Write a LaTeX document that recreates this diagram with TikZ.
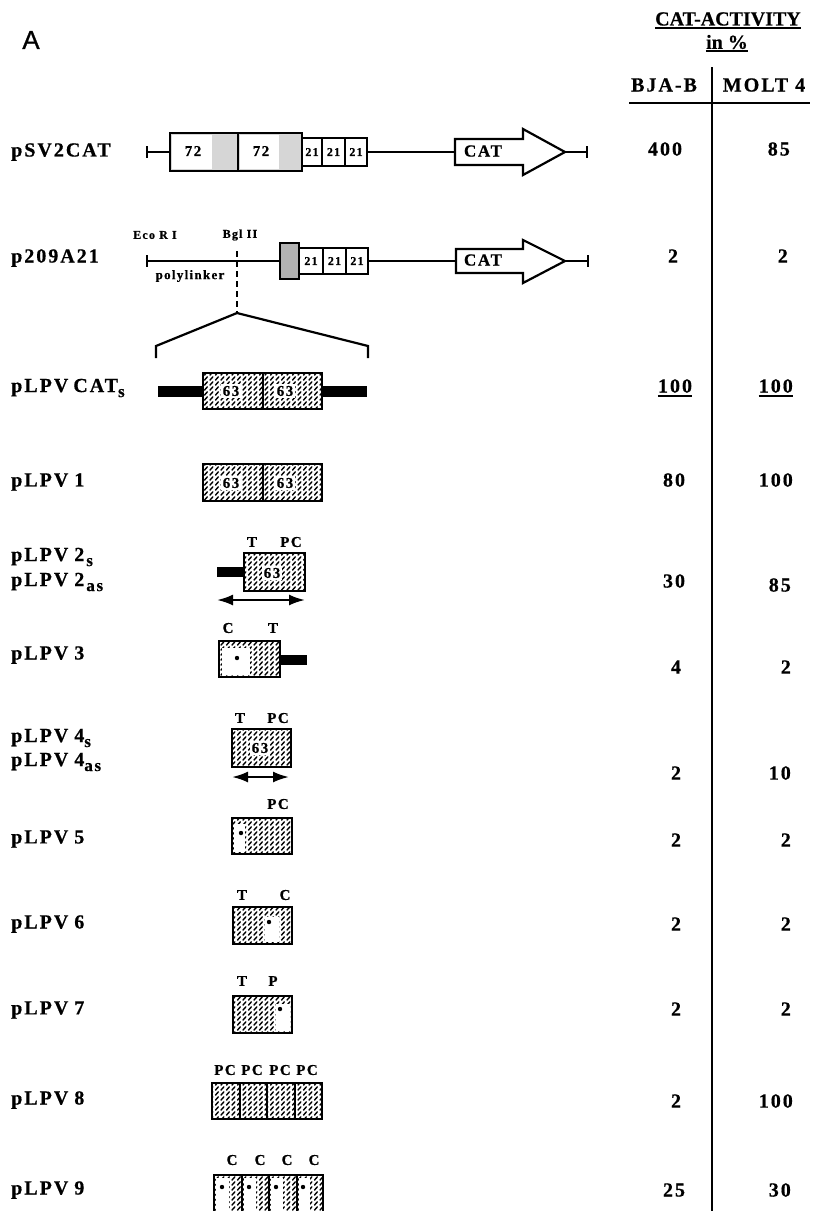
\documentclass[tikz,border=0pt]{standalone}
\usepackage{fontspec}
\setmainfont{Liberation Serif}
\newfontfamily\lab{Liberation Serif Bold}[LetterSpace=10,FakeBold=0.6]
\newfontfamily\hdf{Liberation Serif Bold}[FakeBold=0.5]
\newfontfamily\sfA{Liberation Sans}[FakeBold=0.8]
\usetikzlibrary{patterns,arrows.meta}
\pgfdeclarepatternformonly{shorthatch}{\pgfqpoint{-1pt}{-1pt}}{\pgfqpoint{7pt}{7pt}}{\pgfqpoint{5.5pt}{5pt}}{%
 \pgfsetlinewidth{1.4pt}\pgfsetroundcap
 \pgfpathmoveto{\pgfqpoint{1pt}{0.9pt}}\pgfpathlineto{\pgfqpoint{3.9pt}{4.2pt}}\pgfusepath{stroke}}
\newcommand{\mysub}[1]{\raisebox{-5pt}{\fontsize{17}{17}\selectfont #1}}
\begin{document}
\begin{tikzpicture}[x=1pt,y=-1pt,
  lbl/.style={font=\lab\fontsize{20}{22}\selectfont, anchor=west, inner sep=0pt},
  val/.style={font=\lab\fontsize{20}{22}\selectfont, inner sep=0pt},
  mval/.style={val, anchor=east},
  hdr/.style={font=\hdf\fontsize{20}{22}\selectfont, inner sep=0pt},
  tag/.style={font=\lab\fontsize{15}{16}\selectfont, inner sep=0pt},
  num/.style={font=\lab\fontsize{15}{16}\selectfont, fill=white, inner sep=2pt},
  small/.style={font=\lab\fontsize{12}{13}\selectfont, inner sep=0pt},
  box/.style={draw, line width=2.2pt},
  thinbox/.style={draw, line width=1.6pt},
  wire/.style={line width=1.6pt},
  hatch/.style={pattern=shorthatch},
  dbl/.style={line width=2.2pt, {Latex[length=16pt,width=11pt]}-{Latex[length=16pt,width=11pt]}},
  uline/.style={line width=1.6pt},
  dot/.style={fill=black}
]
\useasboundingbox (0,0) rectangle (812,1211);
\fill[white] (0,0) rectangle (812,1211);

% ---------- header ----------
\node[font=\sfA\fontsize{26}{28}\selectfont, inner sep=0pt] (A) at (31,40) {A};
\node[hdr] (cat) at (728,19) {CAT-ACTIVITY};
\draw[uline] ([yshift=-2pt]cat.south west) -- ([yshift=-2pt]cat.south east);
\node[hdr] (inp) at (727,42) {in \%};
\draw[uline] ([yshift=-2pt]inp.south west) -- ([yshift=-2pt]inp.south east);
\node[val] (bja) at (664,85) {BJA-B};
\node[val] (molt) at (764,85) {MOLT 4};
\coordinate (vtop) at (712,67);
\coordinate (vbot) at (712,1211);
\coordinate (hl) at (629,103);
\coordinate (hr) at (810,103);
\draw[line width=2.6pt] (vtop) -- (vbot);
\draw[line width=2.6pt] (hl) -- (hr);

% ---------- left labels ----------
\node[lbl] (l1) at (11,152) {pSV2CAT};
\node[lbl] (l2) at (11,258) {p209A21};
\node[lbl] (l3) at (11,388) {pLPV\hspace{5pt}CAT\mysub{s}};
\node[lbl] (l4) at (11,482) {pLPV\hspace{6pt}1};
\node[lbl] (l5a) at (11,557) {pLPV\hspace{6pt}2\hspace{2pt}\mysub{s}};
\node[lbl] (l5b) at (11,582) {pLPV\hspace{6pt}2\hspace{2pt}\mysub{as}};
\node[lbl] (l6) at (11,655) {pLPV\hspace{6pt}3};
\node[lbl] (l7a) at (11,738) {pLPV\hspace{6pt}4\mysub{s}};
\node[lbl] (l7b) at (11,762) {pLPV\hspace{6pt}4\mysub{as}};
\node[lbl] (l8) at (11,839) {pLPV\hspace{6pt}5};
\node[lbl] (l9) at (11,924) {pLPV\hspace{6pt}6};
\node[lbl] (l10) at (11,1010) {pLPV\hspace{6pt}7};
\node[lbl] (l11) at (11,1100) {pLPV\hspace{6pt}8};
\node[lbl] (l12) at (11,1190) {pLPV\hspace{6pt}9};

% ---------- values ----------
\node[val] (a1) at (665,149) {400};  \node[mval] (b1) at (790,149) {85};
\node[val] (a2) at (673,256) {2};    \node[mval] (b2) at (788,256) {2};
\node[val] (a3) at (675,386) {100};  \node[mval] (b3) at (793,386) {100};
\draw[uline] ([yshift=-3pt]a3.south west) -- ([yshift=-3pt]a3.south east);
\draw[uline] ([yshift=-3pt]b3.south west) -- ([yshift=-3pt]b3.south east);
\node[val] (a4) at (674,480) {80};   \node[mval] (b4) at (793,480) {100};
\node[val] (a5) at (674,581) {30};   \node[mval] (b5) at (791,585) {85};
\node[val] (a6) at (676,667) {4};    \node[mval] (b6) at (791,667) {2};
\node[val] (a7) at (676,773) {2};    \node[mval] (b7) at (791,773) {10};
\node[val] (a8) at (676,840) {2};    \node[mval] (b8) at (791,840) {2};
\node[val] (a9) at (676,924) {2};    \node[mval] (b9) at (791,924) {2};
\node[val] (a10) at (676,1009) {2};  \node[mval] (b10) at (791,1009) {2};
\node[val] (a11) at (676,1101) {2};  \node[mval] (b11) at (793,1101) {100};
\node[val] (a12) at (674,1190) {25}; \node[mval] (b12) at (791,1190) {30};

% ---------- pSV2CAT ----------
\draw[wire] (147,146) -- (147,158);
\draw[wire] (147,152) -- (170,152);
\fill[gray!32] (170,133) rectangle (302,171);
\fill[white] (172,135) rectangle (212,169);
\fill[white] (240,135) rectangle (279,169);
\draw[box] (170,133) rectangle (302,171);
\draw[line width=2.2pt] (238,133) -- (238,171);
\node[num, fill=none] (s72a) at (193,151) {72};
\node[num, fill=none] (s72b) at (261,151) {72};
\draw[thinbox] (302,138) rectangle (367,166);
\draw[wire] (322,138) -- (322,166);
\draw[wire] (345,138) -- (345,166);
\node[small] (s21a) at (312,152) {21};
\node[small] (s21b) at (333.5,152) {21};
\node[small] (s21c) at (356,152) {21};
\draw[wire] (367,152) -- (455,152);
\draw[line width=2.2pt, fill=white] (455,139) -- (523,139) -- (523,129) -- (565,152) -- (523,175) -- (523,165) -- (455,165) -- cycle;
\node[font=\lab\fontsize{17}{18}\selectfont, inner sep=0pt] (scat) at (483,151) {CAT};
\draw[wire] (565,152) -- (587,152);
\draw[wire] (587,146) -- (587,158);

% ---------- p209A21 ----------
\node[small] (eco) at (155,235) {Eco R I};
\node[small] (bgl) at (240,235) {Bgl II};
\node[font=\lab\fontsize{13}{14}\selectfont, inner sep=0pt] (poly) at (190,276) {polylinker};
\draw[wire] (147,255) -- (147,267);
\draw[wire] (147,261) -- (280,261);
\fill[gray!60] (280,243) rectangle (299,279);
\draw[box] (280,243) rectangle (299,279);
\draw[thinbox] (299,248) rectangle (368,274);
\draw[wire] (323,248) -- (323,274);
\draw[wire] (346,248) -- (346,274);
\node[small] (p21a) at (311,261) {21};
\node[small] (p21b) at (334.5,261) {21};
\node[small] (p21c) at (357,261) {21};
\draw[wire] (368,261) -- (456,261);
\draw[line width=2.2pt, fill=white] (456,249) -- (523,249) -- (523,240) -- (565,261) -- (523,283) -- (523,273) -- (456,273) -- cycle;
\node[font=\lab\fontsize{17}{18}\selectfont, inner sep=0pt] (pcat) at (483,260) {CAT};
\draw[wire] (565,261) -- (588,261);
\draw[wire] (588,255) -- (588,267);
% Bgl II insertion
\coordinate (bg) at (237,251);
\coordinate (apex) at (237,313);
\draw[line width=1.6pt, dash pattern=on 6pt off 4pt] (bg) -- (apex);
\draw[line width=2.2pt] (156,358) -- (156,346) -- (apex) -- (368,346) -- (368,358);

% ---------- pLPV CATs ----------
\fill (158,386) rectangle (367,397);
\fill[white] (203,373) rectangle (322,409);
\fill[hatch] (203,373) rectangle (322,409);
\draw[box] (203,373) rectangle (322,409);
\draw[line width=1.4pt] (263,373) -- (263,409);
\node[num] (c63a) at (231,391) {63};
\node[num] (c63b) at (285,391) {63};

% ---------- pLPV 1 ----------
\fill[hatch] (203,464) rectangle (322,501);
\draw[box] (203,464) rectangle (322,501);
\draw[line width=1.4pt] (263,464) -- (263,501);
\node[num] (o63a) at (231,483) {63};
\node[num] (o63b) at (285,483) {63};

% ---------- pLPV 2 ----------
\node[tag] (t2T) at (252,542) {T};
\node[tag] (t2P) at (291,542) {PC};
\fill (217,567) rectangle (244,577);
\fill[hatch] (244,553) rectangle (305,591);
\draw[box] (244,553) rectangle (305,591);
\node[num] (w63) at (272,573) {63};
\coordinate (d2l) at (217,600);
\coordinate (d2r) at (305,600);
\draw[dbl] (d2l) -- (d2r);

% ---------- pLPV 3 ----------
\node[tag] (t3C) at (228,628) {C};
\node[tag] (t3T) at (273,628) {T};
\fill[hatch] (219,641) rectangle (280,677);
\fill[white] (222,648) rectangle (250,675);
\draw[box] (219,641) rectangle (280,677);
\fill (280,655) rectangle (307,665);
\fill[dot] (237,658) circle[radius=2.2pt];

% ---------- pLPV 4 ----------
\node[tag] (t4T) at (240,718) {T};
\node[tag] (t4P) at (278,718) {PC};
\fill[hatch] (232,729) rectangle (291,767);
\draw[box] (232,729) rectangle (291,767);
\node[num] (f63) at (260,748) {63};
\coordinate (d4l) at (232,777);
\coordinate (d4r) at (289,777);
\draw[dbl] (d4l) -- (d4r);

% ---------- pLPV 5 ----------
\node[tag] (t5P) at (278,804) {PC};
\fill[hatch] (232,818) rectangle (292,854);
\fill[white] (234,824) rectangle (245,852);
\draw[box] (232,818) rectangle (292,854);
\fill[dot] (241,833) circle[radius=2.2pt];

% ---------- pLPV 6 ----------
\node[tag] (t6T) at (242,895) {T};
\node[tag] (t6C) at (285,895) {C};
\fill[hatch] (233,907) rectangle (292,944);
\fill[white] (265,917) rectangle (279,942);
\draw[box] (233,907) rectangle (292,944);
\fill[dot] (269,922) circle[radius=2.2pt];

% ---------- pLPV 7 ----------
\node[tag] (t7T) at (242,981) {T};
\node[tag] (t7P) at (273,981) {P};
\fill[hatch] (233,996) rectangle (292,1033);
\fill[white] (276,1004) rectangle (290,1031);
\draw[box] (233,996) rectangle (292,1033);
\fill[dot] (280,1009) circle[radius=2.2pt];

% ---------- pLPV 8 ----------
\node[tag] (t8a) at (225,1070) {PC};
\node[tag] (t8b) at (252,1070) {PC};
\node[tag] (t8c) at (280,1070) {PC};
\node[tag] (t8d) at (307,1070) {PC};
\fill[hatch] (212,1083) rectangle (322,1119);
\draw[box] (212,1083) rectangle (322,1119);
\draw[line width=1.6pt] (240,1083) -- (240,1119);
\draw[line width=1.6pt] (267,1083) -- (267,1119);
\draw[line width=1.6pt] (295,1083) -- (295,1119);

% ---------- pLPV 9 ----------
\node[tag] (t9a) at (232,1160) {C};
\node[tag] (t9b) at (260,1160) {C};
\node[tag] (t9c) at (287,1160) {C};
\node[tag] (t9d) at (314,1160) {C};
\fill[hatch] (214,1175) rectangle (323,1214);
\fill[white] (216,1178) rectangle (229,1214);
\fill[white] (244,1178) rectangle (256,1214);
\fill[white] (271,1178) rectangle (283,1214);
\fill[white] (299,1178) rectangle (310,1214);
\draw[box] (214,1175) -- (214,1214);
\draw[box] (323,1175) -- (323,1214);
\draw[box] (213,1175) -- (324,1175);
\draw[line width=1.6pt] (242,1175) -- (242,1214);
\draw[line width=1.6pt] (269,1175) -- (269,1214);
\draw[line width=1.6pt] (297,1175) -- (297,1214);
\fill[dot] (222,1187) circle[radius=2.2pt];
\fill[dot] (249,1187) circle[radius=2.2pt];
\fill[dot] (276,1187) circle[radius=2.2pt];
\fill[dot] (303,1187) circle[radius=2.2pt];
\end{tikzpicture}
\end{document}
